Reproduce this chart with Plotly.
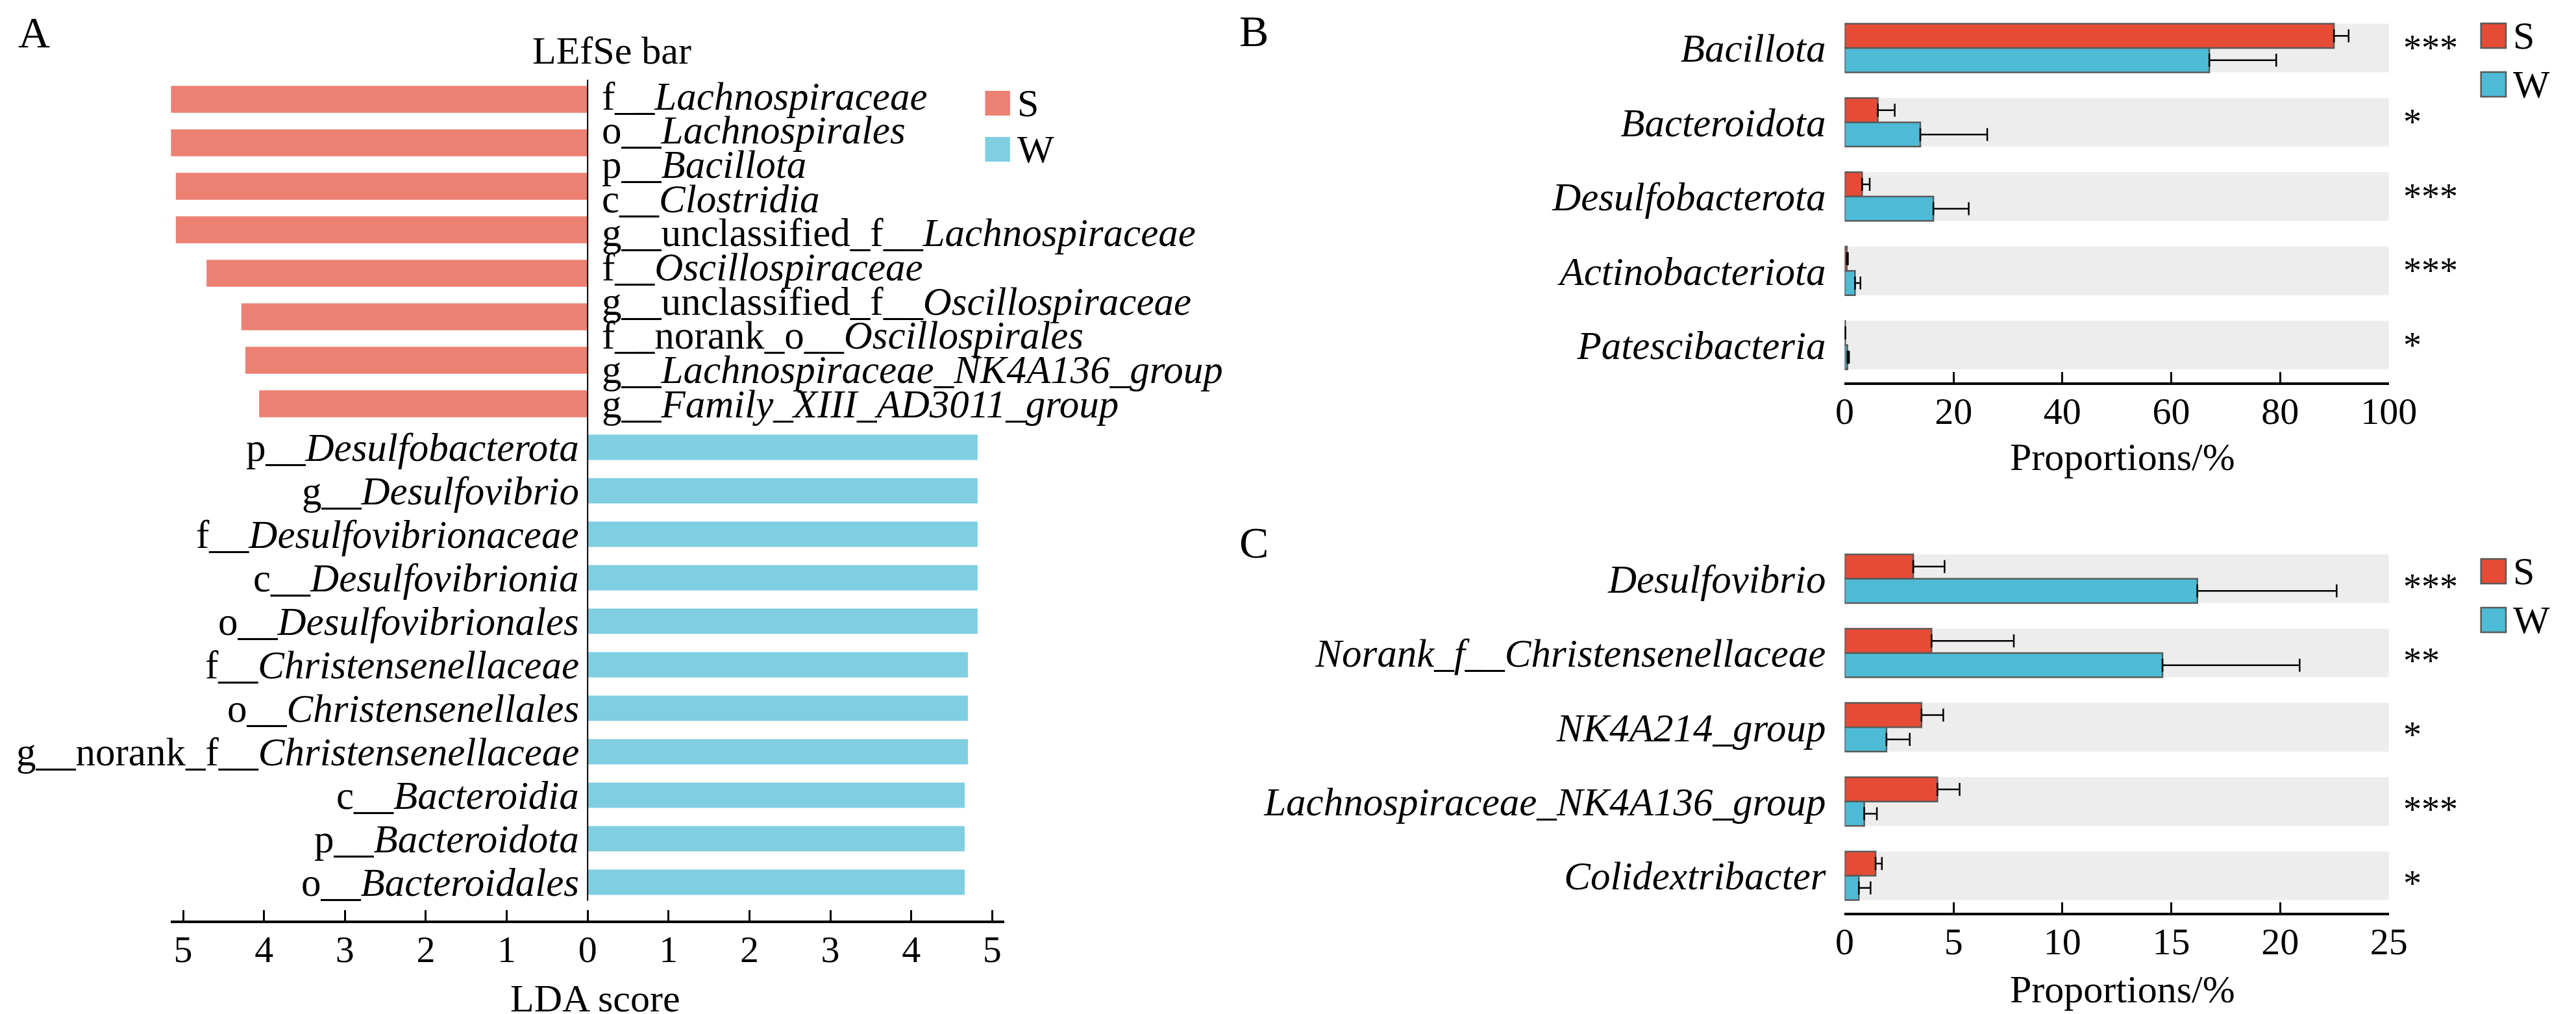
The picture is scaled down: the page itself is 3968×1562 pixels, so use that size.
"""
    LEfSe bar chart (A) and S / W group comparison bars (B, C)
"""

##########==========##########==========##########==========##########==========
## INITIALIZE ENVIRONMENT

import numpy as np
import plotly.graph_objects as go

## canvas
W, H = 3968, 1562
FONT = 'Liberation Serif'

## panel A data: LDA scores
a_red_labels = [
    'f__<i>Lachnospiraceae</i>', 'o__<i>Lachnospirales</i>', 'p__<i>Bacillota</i>',
    'c__<i>Clostridia</i>', 'g__unclassified_f__<i>Lachnospiraceae</i>',
    'f__<i>Oscillospiraceae</i>', 'g__unclassified_f__<i>Oscillospiraceae</i>',
    'f__norank_o__<i>Oscillospirales</i>', 'g__<i>Lachnospiraceae_NK4A136_group</i>',
    'g__<i>Family_XIII_AD3011_group</i>',
]
a_red_lda = [5.16, 5.16, 5.09, 5.09, 4.71, 4.28, 4.23, 4.06]
a_blue_labels = [
    'p__<i>Desulfobacterota</i>', 'g__<i>Desulfovibrio</i>',
    'f__<i>Desulfovibrionaceae</i>', 'c__<i>Desulfovibrionia</i>',
    'o__<i>Desulfovibrionales</i>', 'f__<i>Christensenellaceae</i>',
    'o__<i>Christensenellales</i>', 'g__norank_f__<i>Christensenellaceae</i>',
    'c__<i>Bacteroidia</i>', 'p__<i>Bacteroidota</i>', 'o__<i>Bacteroidales</i>',
]
a_blue_lda = [4.82, 4.82, 4.82, 4.82, 4.82, 4.70, 4.70, 4.70, 4.66, 4.66, 4.66]
a_ticks = [-5, -4, -3, -2, -1, 0, 1, 2, 3, 4, 5]

## panel B data: phylum proportions (%)
b_taxa = ['Bacillota', 'Bacteroidota', 'Desulfobacterota',
          'Actinobacteriota', 'Patescibacteria']
b_s_mean = [89.9, 6.1, 3.2, 0.4, 0.1]
b_s_sd = [2.7, 3.1, 1.4, 0.2, 0.05]
b_w_mean = [67.0, 13.9, 16.3, 1.9, 0.5]
b_w_sd = [12.3, 12.3, 6.5, 1.0, 0.3]
b_sig = ['***', '*', '***', '***', '*']

## panel C data: genus proportions (%)
c_taxa = ['Desulfovibrio', 'Norank_f__Christensenellaceae', 'NK4A214_group',
          'Lachnospiraceae_NK4A136_group', 'Colidextribacter']
c_s_mean = [3.15, 3.99, 3.53, 4.26, 1.42]
c_s_sd = [1.44, 3.78, 1.00, 1.02, 0.29]
c_w_mean = [16.2, 14.6, 1.92, 0.90, 0.65]
c_w_sd = [6.4, 6.3, 1.07, 0.58, 0.54]
c_sig = ['***', '**', '*', '***', '*']

## colours
A_RED, A_BLUE = '#EC8073', '#80CEE1'
S_RED, W_BLUE = '#E64B35', '#4DBBD5'
BAND = '#EDEDED'
EDGE = '#5A5A5A'


def px_x(p):
    return p / W


def px_y(p):
    return 1 - p / H


##########==========##########==========##########==========##########==========
## DEFINE DRAWING FUNCTIONS


def draw_background():
    global fig
    fig = go.Figure()
    fig.update_layout(
        width = W, height = H, margin = dict(l = 0, r = 0, t = 0, b = 0),
        paper_bgcolor = 'white', plot_bgcolor = 'white',
        showlegend = False, barmode = 'overlay',
        font = dict(family = FONT, size = 58, color = 'black'),
    )


def add_text(text, x, y, size = 58, xanchor = 'center', **kw):
    fig.add_annotation(
        xref = 'paper', yref = 'paper', x = px_x(x), y = px_y(y),
        text = text, showarrow = False, xanchor = xanchor, yanchor = 'middle',
        font = dict(family = FONT, size = size, color = 'black'), **kw
    )


def add_legend_box(x, y, color, label, border):
    fig.add_shape(
        type = 'rect', xref = 'paper', yref = 'paper',
        x0 = px_x(x), x1 = px_x(x + 39), y0 = px_y(y), y1 = px_y(y + 38),
        fillcolor = color,
        line = dict(color = EDGE if border else color, width = 2.5 if border else 0),
    )
    add_text(label, x + 48, y + 19, size = 60, xanchor = 'left')


def draw_lefse():
    """
        panel A: diverging LDA bars
    """
    n_red = len(a_red_lda)
    pos_red = np.arange(n_red)
    pos_blue = np.arange(len(a_blue_lda)) + n_red
    row = 67.0
    top, bottom, first = 100, 1410, 145

    fig.add_trace(go.Bar(
        x = -np.array(a_red_lda), y = pos_red, orientation = 'h', width = 0.62,
        marker = dict(color = A_RED, line = dict(width = 0)),
        xaxis = 'x', yaxis = 'y',
    ))
    fig.add_trace(go.Bar(
        x = a_blue_lda, y = pos_blue, orientation = 'h', width = 0.58,
        marker = dict(color = A_BLUE, line = dict(width = 0)),
        xaxis = 'x', yaxis = 'y',
    ))

    lim = 5.15
    fig.update_layout(
        xaxis = dict(
            domain = [px_x(244), px_x(1547)], range = [-lim, lim],
            tickvals = [-lim + 0.005] + a_ticks + [lim - 0.005],
            ticktext = [''] + [str(abs(t)) for t in a_ticks] + [''],
            ticks = 'inside', ticklen = 16, tickwidth = 3, tickcolor = 'black',
            showline = True, linewidth = 4, linecolor = 'black',
            showgrid = False, zeroline = False, anchor = 'y',
            tickfont = dict(family = FONT, size = 58), ticklabelstandoff = -10,
        ),
        yaxis = dict(
            domain = [px_y(bottom), px_y(top)],
            range = [(bottom - first) / row, (top - first) / row],
            visible = False, showgrid = False, zeroline = False, anchor = 'x',
        ),
    )

    ## zero line
    fig.add_shape(
        type = 'line', xref = 'x', yref = 'y', x0 = 0, x1 = 0,
        y0 = -0.45, y1 = pos_blue[-1] + 0.43,
        line = dict(color = 'black', width = 2),
    )

    ## labels for the W side (left of zero line)
    for lab, p in zip(a_blue_labels, pos_blue):
        fig.add_annotation(
            xref = 'paper', yref = 'y', x = px_x(884), y = p, text = lab,
            showarrow = False, xanchor = 'right', yanchor = 'middle',
            font = dict(family = FONT, size = 61),
        )
    ## labels for the S side, packed into the span of the red bars
    for lab, p in zip(a_red_labels, np.linspace(-0.07, n_red - 1, len(a_red_labels))):
        fig.add_annotation(
            xref = 'paper', yref = 'y', x = px_x(916), y = p, text = lab,
            showarrow = False, xanchor = 'left', yanchor = 'middle',
            font = dict(family = FONT, size = 61),
        )

    add_text('A', 30, 42, size = 68)
    add_text('LEfSe bar', 933, 70, size = 60)
    add_text('LDA score', 908, 1530, size = 60)
    add_legend_box(1517, 132, A_RED, 'S', False)
    add_legend_box(1517, 203, A_BLUE, 'W', False)


def draw_compare(n, taxa, s_mean, s_sd, w_mean, w_sd, sig, xmax, dtick,
                 top, bottom, first, letter, star_shift):
    """
        panels B and C: paired horizontal bars with error bars
    """
    xa, ya = 'x%d' % n, 'y%d' % n
    pos = np.arange(len(taxa))
    row = 114.4
    band = 0.655

    ## grey background bands
    fig.add_trace(go.Bar(
        x = [xmax] * len(taxa), y = pos, orientation = 'h', width = band,
        marker = dict(color = BAND, line = dict(width = 0)),
        xaxis = xa, yaxis = ya, hoverinfo = 'skip',
    ))
    for mean, sd, col, off in [(s_mean, s_sd, S_RED, -band / 4),
                               (w_mean, w_sd, W_BLUE, band / 4)]:
        fig.add_trace(go.Bar(
            x = mean, y = pos + off, orientation = 'h', width = band / 2,
            marker = dict(color = col, line = dict(color = EDGE, width = 2.5)),
            error_x = dict(type = 'data', array = sd, arrayminus = [0] * len(sd),
                           symmetric = False, color = 'black', thickness = 2.5,
                           width = 10),
            xaxis = xa, yaxis = ya,
        ))

    fig.update_layout({
        'xaxis%d' % n: dict(
            domain = [px_x(2861), px_x(3712)], range = [0, xmax],
            tickvals = list(range(0, xmax + 1, dtick)),
            ticks = 'inside', ticklen = 16, tickwidth = 3, tickcolor = 'black',
            showline = True, linewidth = 4, linecolor = 'black',
            showgrid = False, zeroline = False, anchor = ya,
            tickfont = dict(family = FONT, size = 58), ticklabelstandoff = -10,
        ),
        'yaxis%d' % n: dict(
            domain = [px_y(bottom), px_y(top)],
            range = [(bottom - first) / row, (top - first) / row],
            tickvals = pos, ticktext = ['<i>%s</i>' % t for t in taxa],
            ticks = '', showline = False, showgrid = False, zeroline = False,
            tickfont = dict(family = FONT, size = 61), ticklabelstandoff = 28,
            anchor = xa,
        ),
    })

    for s, p in zip(sig, pos):
        fig.add_annotation(
            xref = 'paper', yref = ya, x = px_x(3733), y = p, text = s,
            showarrow = False, xanchor = 'left', yanchor = 'middle',
            yshift = star_shift, font = dict(family = FONT, size = 56),
        )

    add_text(letter, 1937, top + 30 if n == 2 else top + 28, size = 68)
    add_text('Proportions/%', 3296, bottom + (115 if n == 2 else 118), size = 60)


##########==========##########==========##########==========##########==========
## EXECUTE FUNCTIONS

if __name__ == '__main__':

    draw_background()
    draw_lefse()

    draw_compare(2, b_taxa, b_s_mean, b_s_sd, b_w_mean, b_w_sd, b_sig,
                 100, 20, 10, 581, 66, 'B', 0)
    add_legend_box(3856, 28, S_RED, 'S', True)
    add_legend_box(3856, 103, W_BLUE, 'W', True)

    draw_compare(3, c_taxa, c_s_mean, c_s_sd, c_w_mean, c_w_sd, c_sig,
                 25, 5, 800, 1398, 883.5, 'C', -12)
    add_legend_box(3856, 853, S_RED, 'S', True)
    add_legend_box(3856, 928, W_BLUE, 'W', True)

    fig.write_html('out.html')
